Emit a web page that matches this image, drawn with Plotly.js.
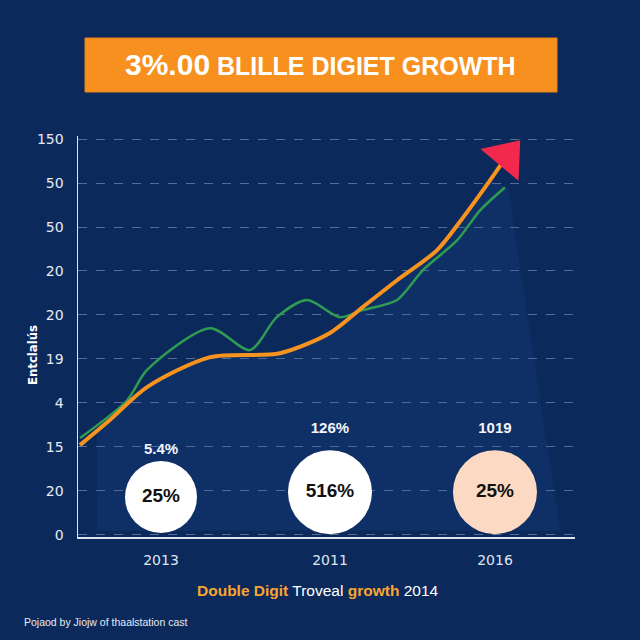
<!DOCTYPE html>
<html>
<head>
<meta charset="utf-8">
<script src="https://cdn.plot.ly/plotly-3.0.1.min.js"></script>
<style>html,body{margin:0;padding:0;background:#0b295b;}#chart{width:640px;height:640px;}</style>
</head>
<body>
<div id="chart"></div>
<script>
// ---- data ----
const yTickVals = [0, 1, 2, 3, 4, 5, 6, 7, 8, 9];
const yTickText = ['0', '20', '15', '4', '19', '20', '20', '50', '50', '150'];
const xTickVals = [16.7, 50.7, 83.9];
const xTickText = ['2013', '2011', '2016'];

const orangeX = [0.4, 6.4, 13.9, 26.6, 40.6, 50.7, 57.3, 64.2, 72.2, 77.5, 82.9, 86.2];
const orangeY = [2.04, 2.61, 3.36, 4.04, 4.13, 4.59, 5.18, 5.79, 6.47, 7.22, 8.06, 8.6];

const greenX = [0.4, 9.9, 13.9, 26.6, 34.6, 40.0, 46.1, 52.7, 57.3, 64.2, 69.4, 76.3, 80.9, 85.9];
const greenY = [2.2, 3.06, 3.75, 4.7, 4.2, 4.95, 5.34, 4.95, 5.11, 5.34, 6.02, 6.70, 7.38, 7.9];

const shadeX = [3.8, 13.9, 26.6, 40.6, 50.7, 57.3, 64.2, 72.2, 77.5, 82.9, 86.5, 97.0, 3.8];
const shadeY = [2.4, 3.36, 4.04, 4.13, 4.59, 5.18, 5.79, 6.47, 7.22, 8.06, 7.9, 0.1, 0.1];

const circleX = [16.7, 50.7, 83.9];
const circleY = [0.86, 0.97, 0.97];
const circleText = ['25%', '516%', '25%'];
const circleSize = [72, 84, 84];
const circleColor = ['#ffffff', '#ffffff', '#fcd9c2'];

const topLabelX = [16.7, 50.7, 83.9];
const topLabelY = [1.93, 2.4, 2.4];
const topLabelText = ['5.4%', '126%', '1019'];

const title = '<span style="font-size:30px">3%.00</span> BLILLE DIGIET GROWTH';
const yTitle = 'Entclalús';
const caption = '<b><span style="color:#f7a530">Double Digit</span></b> Troveal <b><span style="color:#f7a530">growth</span></b> 2014';
const footer = 'Pojaod by Jiojw of thaalstation cast';

// ---- traces ----
const traces = [
  {
    x: shadeX, y: shadeY, mode: 'lines', fill: 'toself',
    fillcolor: 'rgba(40,90,170,0.16)', line: {width: 0},
    hoverinfo: 'skip', showlegend: false
  },
  {
    x: greenX, y: greenY, mode: 'lines',
    line: {color: '#2f9c52', width: 2.5, shape: 'spline', smoothing: 0.8},
    showlegend: false
  },
  {
    x: orangeX, y: orangeY, mode: 'lines+markers',
    line: {color: '#f7931e', width: 4, shape: 'spline', smoothing: 0.8},
    marker: {
      symbol: 'triangle-up', angle: 40, opacity: 1,
      size: orangeX.map((v, i) => i === orangeX.length - 1 ? 43 : 0),
      color: '#f2294d', line: {width: 0}
    },
    showlegend: false
  },
  {
    x: circleX, y: circleY, mode: 'markers+text',
    text: circleText, textposition: 'middle center',
    textfont: {family: 'Liberation Sans, Arial, sans-serif', size: 19, color: '#111111', weight: 'bold'},
    marker: {size: circleSize, color: circleColor, opacity: 1, line: {width: 0}},
    showlegend: false
  },
  {
    x: topLabelX, y: topLabelY, mode: 'text',
    text: topLabelText, textposition: 'middle center',
    textfont: {family: 'Liberation Sans, Arial, sans-serif', size: 15, color: '#f2f5fa', weight: 'bold'},
    showlegend: false
  }
];

const layout = {
  width: 640, height: 640,
  paper_bgcolor: '#0b295b', plot_bgcolor: 'rgba(0,0,0,0)',
  margin: {l: 78, r: 65, t: 136, b: 103},
  showlegend: false,
  xaxis: {
    range: [0, 100], tickvals: xTickVals, ticktext: xTickText,
    showgrid: false, zeroline: false,
    showline: true, linecolor: '#dfe6f2', linewidth: 1.5,
    ticks: '', ticklabelstandoff: 10,
    tickfont: {family: 'DejaVu Sans, sans-serif', size: 14, color: '#dfe6f2'}
  },
  yaxis: {
    range: [-0.05, 9.07], tickvals: yTickVals, ticktext: yTickText,
    showgrid: true, gridcolor: 'rgba(160,180,210,0.5)', griddash: 'dash', gridwidth: 1,
    zeroline: false, showline: true, linecolor: '#dfe6f2', linewidth: 1.5,
    ticks: '', ticklabelstandoff: 10,
    tickfont: {family: 'DejaVu Sans, sans-serif', size: 14, color: '#e6ebf3'}
  },
  shapes: [
    {type: 'rect', xref: 'paper', yref: 'paper',
     x0: (85 - 78) / 497, x1: (557 - 78) / 497,
     y0: (537 - 92) / 401, y1: (537 - 38) / 401,
     fillcolor: '#f7901e', line: {width: 1, color: '#e88515'}, layer: 'below'}
  ],
  annotations: [
    {text: title, xref: 'paper', yref: 'paper', xanchor: 'center', yanchor: 'middle',
     x: (320 - 78) / 497, y: (537 - 64) / 401, showarrow: false,
     font: {family: 'Liberation Sans, Arial, sans-serif', size: 25, color: '#ffffff', weight: 'bold'}},
    {text: yTitle, xref: 'paper', yref: 'paper', textangle: -90, xanchor: 'center', yanchor: 'middle',
     x: (32 - 78) / 497, y: (537 - 355) / 401, showarrow: false,
     font: {family: 'DejaVu Sans Condensed, DejaVu Sans, sans-serif', size: 13, color: '#ffffff', weight: 'bold'}},
    {text: caption, xref: 'paper', yref: 'paper', xanchor: 'center', yanchor: 'middle',
     x: (318 - 78) / 497, y: (537 - 590) / 401, showarrow: false,
     font: {family: 'Liberation Sans, Arial, sans-serif', size: 15.5, color: '#ffffff'}},
    {text: footer, xref: 'paper', yref: 'paper', xanchor: 'left', yanchor: 'middle',
     x: (22 - 78) / 497, y: (537 - 622) / 401, showarrow: false,
     font: {family: 'Liberation Sans, Arial, sans-serif', size: 10.5, color: '#e6ebf3'}}
  ]
};

Plotly.newPlot('chart', traces, layout, {displayModeBar: false, staticPlot: true});
</script>
</body>
</html>
